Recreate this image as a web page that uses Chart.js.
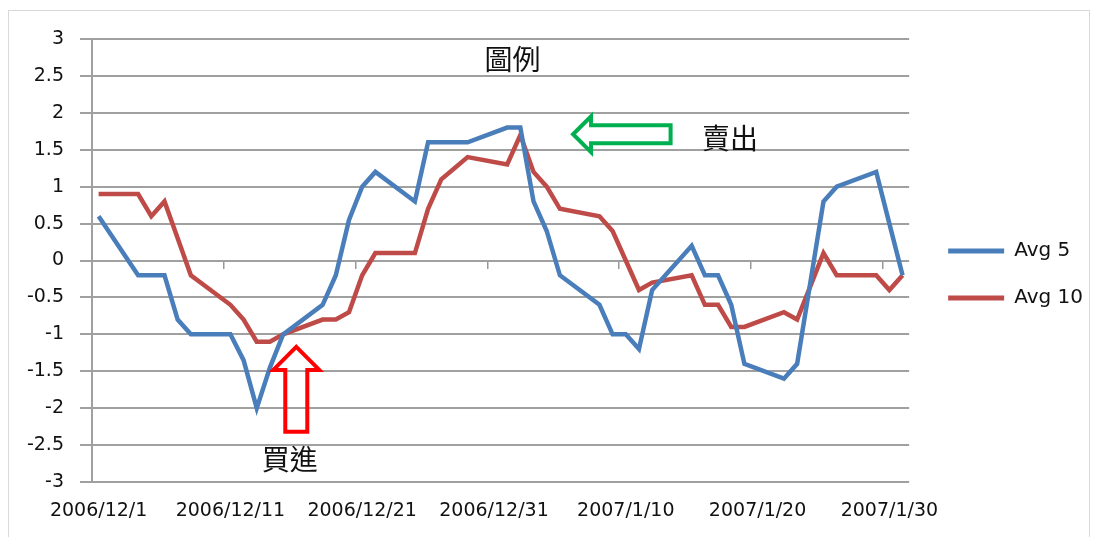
<!DOCTYPE html>
<html>
<head>
<meta charset="utf-8">
<script src="https://cdn.jsdelivr.net/npm/chart.js@4.4.1/dist/chart.umd.min.js"></script>
<style>
body { margin: 0; background: #fff; }
#marco { position: absolute; left: 8px; top: 10px; width: 1082px; height: 540px; border: 1px solid #d9d9d9; box-sizing: border-box; }
#caja { position: absolute; left: 0; top: 0; width: 1097px; height: 537px; }
</style>
</head>
<body>
<div id="marco"></div>
<div id="caja"><canvas id="myChart"></canvas></div>
<script>
// dias del eje (un casillero por dia, 2006/12/1 .. 2007/1/31)
const dias = [];
for (let d = 1; d <= 31; d++) dias.push("2006/12/" + d);
for (let d = 1; d <= 31; d++) dias.push("2007/1/" + d);

// etiquetas visibles del eje x
const etiquetasX = ["2006/12/1", "2006/12/11", "2006/12/21", "2006/12/31", "2007/1/10", "2007/1/20", "2007/1/30"];

// dias con dato
const fechas = [
    "2006/12/1", "2006/12/4", "2006/12/5", "2006/12/6", "2006/12/7", "2006/12/8",
    "2006/12/11", "2006/12/12", "2006/12/13", "2006/12/14", "2006/12/15",
    "2006/12/18", "2006/12/19", "2006/12/20", "2006/12/21", "2006/12/22",
    "2006/12/25", "2006/12/26", "2006/12/27", "2006/12/28", "2006/12/29",
    "2007/1/1", "2007/1/2", "2007/1/3", "2007/1/4", "2007/1/5",
    "2007/1/8", "2007/1/9", "2007/1/10", "2007/1/11", "2007/1/12",
    "2007/1/15", "2007/1/16", "2007/1/17", "2007/1/18", "2007/1/19",
    "2007/1/22", "2007/1/23", "2007/1/25", "2007/1/26",
    "2007/1/29", "2007/1/30", "2007/1/31"
];

const avg5 = [
    0.6, -0.2, -0.2, -0.2, -0.8, -1.0,
    -1.0, -1.35, -2.0, -1.45, -1.0,
    -0.6, -0.2, 0.55, 1.0, 1.2,
    0.8, 1.6, 1.6, 1.6, 1.6,
    1.8, 1.8, 0.8, 0.4, -0.2,
    -0.6, -1.0, -1.0, -1.2, -0.4,
    0.2, -0.2, -0.2, -0.6, -1.4,
    -1.6, -1.4, 0.8, 1.0,
    1.2, 0.5, -0.2
];

const avg10 = [
    0.9, 0.9, 0.6, 0.8, 0.3, -0.2,
    -0.6, -0.8, -1.1, -1.1, -1.0,
    -0.8, -0.8, -0.7, -0.2, 0.1,
    0.1, 0.7, 1.1, 1.25, 1.4,
    1.3, 1.7, 1.2, 1.0, 0.7,
    0.6, 0.4, 0.0, -0.4, -0.3,
    -0.2, -0.6, -0.6, -0.9, -0.9,
    -0.7, -0.8, 0.1, -0.2,
    -0.2, -0.4, -0.2
];

const nombres = ["Avg 5", "Avg 10"];
const colores = ["#4a7ebb", "#be4b48"];

// textos y flechas (posicion en unidades del grafico: indice de dia, valor)
const textos = [
    { texto: "圖例", x: 31.4, y: 2.72 },
    { texto: "賣出", x: 47.9, y: 1.65 },
    { texto: "買進", x: 14.5, y: -2.70 }
];
const flechaVenta = { x1: 36.0, x2: 43.4, y: 1.71 };
const flechaCompra = { x: 15.0, y1: -1.17, y2: -2.32 };

const fuente = "'DejaVu Sans', sans-serif";
const fuenteCJK = "'Noto Sans CJK TC', 'Noto Sans CJK SC', sans-serif";

function serie(valores) {
    return fechas.map((f, i) => ({ x: f, y: valores[i] }));
}

function soloCadaDiez(v) {
    const l = this.getLabelForValue(v);
    return etiquetasX.includes(l) ? l : null;
}

// marcas en el eje 0: en el borde izquierdo de cada dia con etiqueta
const marcasX = etiquetasX.slice(1).map(l => dias.indexOf(l) - 0.5);

const anotaciones = {
    id: "anotaciones",
    afterDatasetsDraw(chart) {
        const ctx = chart.ctx;
        const sx = chart.scales.x;
        const sy = chart.scales.y;
        ctx.save();
        ctx.lineWidth = 4;
        ctx.lineJoin = "miter";

        // flecha verde hacia la izquierda
        let px = sx.getPixelForValue(flechaVenta.x1);
        let qx = sx.getPixelForValue(flechaVenta.x2);
        let py = sy.getPixelForValue(flechaVenta.y);
        ctx.strokeStyle = "#00b050";
        ctx.beginPath();
        ctx.moveTo(px, py);
        ctx.lineTo(px + 18, py - 18);
        ctx.lineTo(px + 18, py - 9);
        ctx.lineTo(qx, py - 9);
        ctx.lineTo(qx, py + 9);
        ctx.lineTo(px + 18, py + 9);
        ctx.lineTo(px + 18, py + 18);
        ctx.closePath();
        ctx.stroke();

        // flecha roja hacia arriba
        px = sx.getPixelForValue(flechaCompra.x);
        py = sy.getPixelForValue(flechaCompra.y1);
        let qy = sy.getPixelForValue(flechaCompra.y2);
        ctx.strokeStyle = "#ff0000";
        ctx.beginPath();
        ctx.moveTo(px, py);
        ctx.lineTo(px + 23, py + 23);
        ctx.lineTo(px + 11, py + 23);
        ctx.lineTo(px + 11, qy);
        ctx.lineTo(px - 11, qy);
        ctx.lineTo(px - 11, py + 23);
        ctx.lineTo(px - 23, py + 23);
        ctx.closePath();
        ctx.stroke();

        ctx.fillStyle = "#111";
        ctx.font = "28px " + fuenteCJK;
        ctx.textAlign = "center";
        ctx.textBaseline = "middle";
        textos.forEach(t => {
            ctx.fillText(t.texto, sx.getPixelForValue(t.x), sy.getPixelForValue(t.y));
        });
        ctx.restore();
    }
};

const config = {
    type: "line",
    data: {
        datasets: nombres.map((n, i) => ({
            label: n,
            data: serie(i === 0 ? avg5 : avg10),
            borderColor: colores[i],
            backgroundColor: colores[i],
            borderWidth: 4.5,
            pointRadius: 0,
            tension: 0
        }))
    },
    options: {
        responsive: true,
        maintainAspectRatio: false,
        animation: false,
        layout: { padding: { left: 0, top: 25, right: 4, bottom: 13 } },
        scales: {
            x: {
                type: "category",
                labels: dias,
                offset: true,
                border: { display: false },
                grid: { display: false, drawTicks: false },
                ticks: {
                    autoSkip: false,
                    maxRotation: 0,
                    padding: 18,
                    color: "#111",
                    font: { size: 19, family: fuente },
                    callback: soloCadaDiez
                },
                afterFit: s => { s.height = 42; }
            },
            xT: {
                type: "linear",
                position: "top",
                display: true,
                border: { display: false },
                grid: { display: false, drawTicks: false },
                ticks: { display: false },
                afterFit: s => { s.height = 14; }
            },
            x2: {
                type: "linear",
                min: -0.5,
                max: dias.length - 0.5,
                position: { y: 0 },
                border: { display: false },
                grid: { display: true, drawOnChartArea: false, drawTicks: true, tickLength: 8, color: "#999", lineWidth: 1.5 },
                ticks: { display: false },
                afterBuildTicks: s => { s.ticks = marcasX.map(v => ({ value: v })); }
            },
            y: {
                min: -3,
                max: 3,
                border: { display: true, color: "#a0a0a0", width: 2 },
                grid: { color: "#a0a0a0", lineWidth: 2, tickLength: 12 },
                ticks: {
                    stepSize: 0.5,
                    padding: 16,
                    color: "#111",
                    font: { size: 19, family: fuente },
                    callback: v => String(Number(v.toFixed(1)))
                },
                afterFit: s => { s.width = 92; }
            },
            yR: {
                position: "right",
                display: true,
                min: -3,
                max: 3,
                border: { display: false },
                grid: { display: false, drawTicks: false },
                ticks: { display: false },
                afterFit: s => { s.width = 12; }
            }
        },
        plugins: {
            legend: {
                position: "right",
                align: "center",
                labels: {
                    boxWidth: 56,
                    boxHeight: 5,
                    padding: 27,
                    color: "#111",
                    font: { size: 20, family: fuente },
                    generateLabels: chart => Chart.defaults.plugins.legend.labels.generateLabels(chart).map(l => Object.assign(l, { lineWidth: 0 }))
                }
            },
            tooltip: { enabled: false }
        }
    },
    plugins: [anotaciones]
};

new Chart(document.getElementById("myChart"), config);
</script>
</body>
</html>
